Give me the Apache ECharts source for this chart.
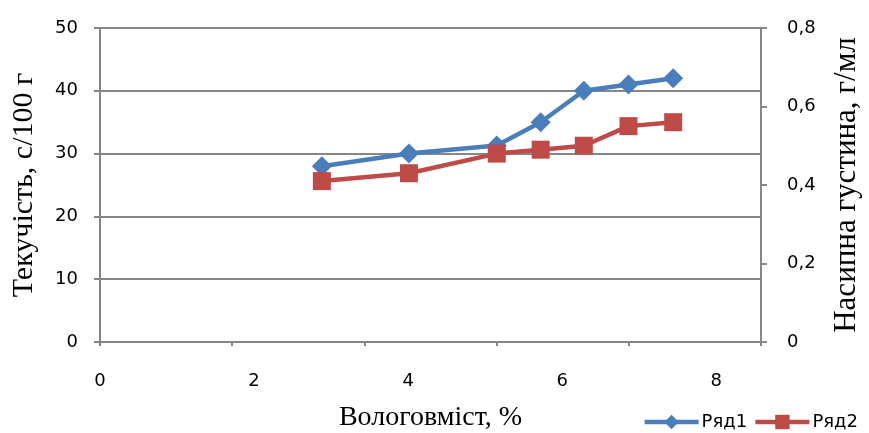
<!DOCTYPE html>
<html>
<head>
<meta charset="utf-8">
<script src="https://cdn.jsdelivr.net/npm/echarts@6/dist/echarts.min.js"></script>
<style>html,body{margin:0;padding:0;background:#fff}#c{width:869px;height:433px}</style>
</head>
<body>
<div id="c"></div>
<script>
const moisture = [2.88, 4.01, 5.15, 5.72, 6.28, 6.86, 7.44];
const flowability = [28, 30, 31.3, 35, 40, 41, 42];
const bulkDensity = [0.41, 0.43, 0.48, 0.49, 0.50, 0.55, 0.56];
const seriesNames = ['Ряд1', 'Ряд2'];
const xTitle = 'Вологовміст, %';
const yLeftTitle = 'Текучість, с/100 г';
const yRightTitle = 'Насипна густина, г/мл';

const gray = '#868686';
const sans = '"DejaVu Sans", sans-serif';
const serif = '"Liberation Serif", "DejaVu Serif", serif';

const chart = echarts.init(document.getElementById('c'));
chart.setOption({
  animation: false,
  backgroundColor: '#fff',
  grid: { left: 100, right: 108, top: 28, bottom: 91, containLabel: false, outerBoundsMode: 'none' },
  legend: {
    right: 6, top: 408,
    itemWidth: 54, itemHeight: 18, itemGap: 6,
    lineStyle: { width: 4.5 },
    textStyle: { fontSize: 18, fontFamily: sans, color: '#000', padding: [0,0,0,-2] },
    data: seriesNames
  },
  xAxis: [
    {
      type: 'value', min: 0, max: 8.58, interval: 2, position: 'bottom',
      name: xTitle, nameLocation: 'middle', nameGap: 62,
      nameTextStyle: { fontFamily: serif, fontSize: 28, color: '#000' },
      axisLine: { show: true, onZero: false, lineStyle: { color: gray, width: 2 } },
      axisTick: { show: false },
      splitLine: { show: false },
      axisLabel: { fontSize: 18, fontFamily: sans, color: '#000', margin: 30,
        formatter: v => (Math.abs(v % 2) < 1e-9 ? String(v) : '') }
    },
    {
      type: 'value', min: 0, max: 10, interval: 2, position: 'bottom',
      axisLine: { show: false, onZero: false },
      axisTick: { show: true, length: 4, lineStyle: { color: gray, width: 2 } },
      axisLabel: { show: false },
      splitLine: { show: false }
    }
  ],
  yAxis: [
    {
      type: 'value', min: 0, max: 50, interval: 10, position: 'left',
      name: yLeftTitle, nameLocation: 'middle', nameRotate: 90, nameGap: 61,
      nameTextStyle: { fontFamily: serif, fontSize: 30, color: '#000' },
      axisLine: { show: true, onZero: false, lineStyle: { color: gray, width: 2 } },
      axisTick: { show: true, length: 6, lineStyle: { color: gray, width: 2 } },
      splitLine: { show: true, lineStyle: { color: gray, width: 2 } },
      axisLabel: { fontSize: 18, fontFamily: sans, color: '#000', margin: 22 }
    },
    {
      type: 'value', min: 0, max: 0.8, interval: 0.2, position: 'right',
      name: yRightTitle, nameLocation: 'middle', nameRotate: 90, nameGap: 70,
      nameTextStyle: { fontFamily: serif, fontSize: 31, color: '#000' },
      axisLine: { show: true, onZero: false, lineStyle: { color: gray, width: 2 } },
      axisTick: { show: true, length: 6, lineStyle: { color: gray, width: 2 } },
      splitLine: { show: false },
      axisLabel: { fontSize: 18, fontFamily: sans, color: '#000', margin: 26,
        formatter: v => String(+v.toFixed(1)).replace('.', ',') }
    }
  ],
  series: [
    {
      name: seriesNames[0], type: 'line', xAxisIndex: 0, yAxisIndex: 0,
      data: moisture.map((x, i) => [x, flowability[i]]),
      symbol: 'diamond', symbolSize: 20,
      lineStyle: { color: '#4A7EBB', width: 4.5 },
      itemStyle: { color: '#4A7EBB' }
    },
    {
      name: seriesNames[1], type: 'line', xAxisIndex: 0, yAxisIndex: 1,
      data: moisture.map((x, i) => [x, bulkDensity[i]]),
      symbol: 'rect', symbolSize: 18,
      lineStyle: { color: '#BE4B48', width: 4.5 },
      itemStyle: { color: '#BE4B48' }
    }
  ]
});
</script>
</body>
</html>
